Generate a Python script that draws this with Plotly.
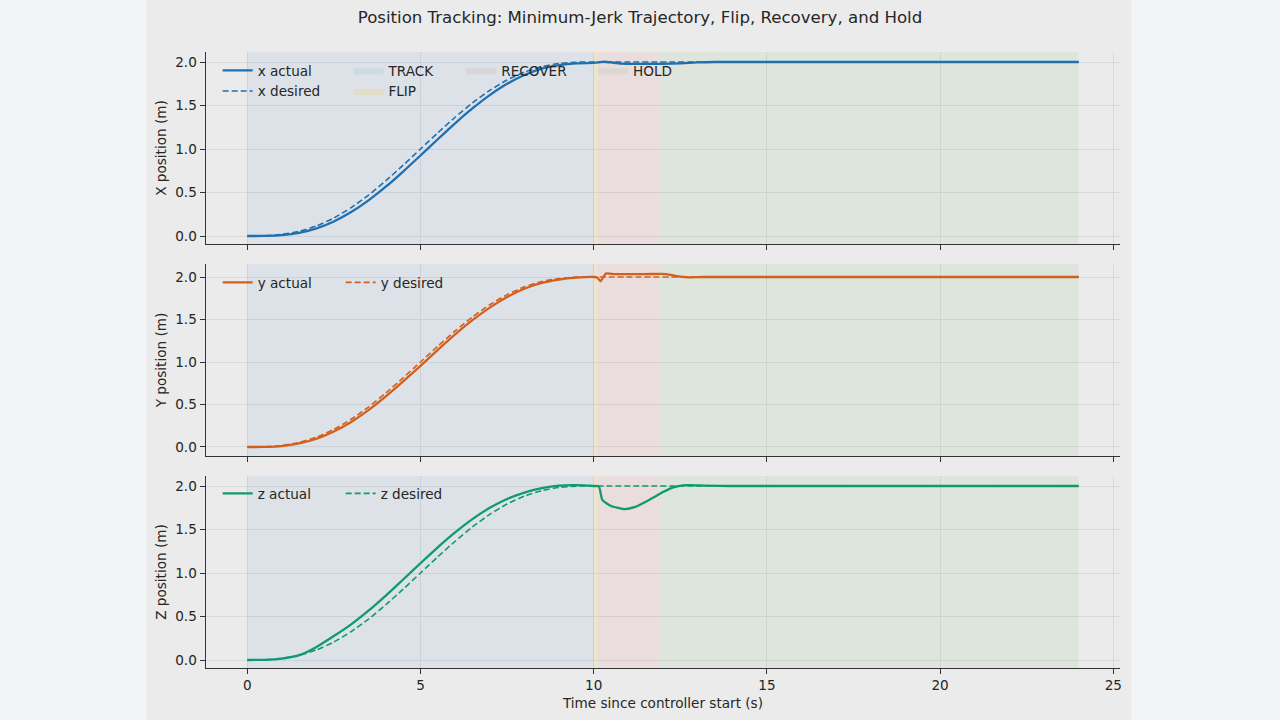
import plotly.graph_objects as go

# ---------------- data ----------------
T_TRACK = [0, 0.5, 1, 1.5, 2, 2.5, 3, 3.5, 4, 4.5, 5, 5.5, 6, 6.5, 7, 7.5, 8, 8.5, 9, 9.5, 10]
DESIRED_TRACK = [0, 0.002, 0.017, 0.053, 0.116, 0.207, 0.326, 0.470, 0.635, 0.814, 1.0,
                 1.186, 1.365, 1.530, 1.674, 1.793, 1.884, 1.947, 1.983, 1.998, 2.0]
T_DES_POST = [10.5, 24]
DES_POST = [2.0, 2.0]

X_ACT_TRACK = [0, 0.0005, 0.009, 0.036, 0.087, 0.167, 0.275, 0.410, 0.567, 0.741, 0.925,
               1.112, 1.295, 1.466, 1.619, 1.749, 1.851, 1.925, 1.965, 1.985, 1.99]
T_X_POST = [10.15, 10.3, 10.5, 10.8, 11.5, 12.0, 12.5, 13.0, 13.5, 24]
X_ACT_POST = [1.995, 2.003, 1.995, 1.982, 1.978, 1.978, 1.985, 1.995, 2.0, 2.0]

Y_ACT_TRACK = [0, 0.001, 0.011, 0.042, 0.097, 0.182, 0.295, 0.434, 0.595, 0.772, 0.955,
               1.143, 1.325, 1.492, 1.640, 1.765, 1.862, 1.930, 1.970, 1.992, 2.0]
T_Y_POST = [10.1, 10.2, 10.35, 10.6, 11.5, 12.1, 12.4, 12.7, 13.2, 24]
Y_ACT_POST = [1.995, 1.95, 2.04, 2.035, 2.035, 2.035, 2.01, 1.997, 2.0, 2.0]

Z_ACT_TRACK = [0, 0.002, 0.016, 0.055, 0.150, 0.275, 0.410, 0.567, 0.741, 0.925, 1.112,
               1.295, 1.466, 1.619, 1.749, 1.851, 1.925, 1.975, 2.005, 2.010, 2.0]
T_Z_POST = [10.15, 10.25, 10.5, 10.9, 11.2, 11.6, 12.0, 12.3, 12.7, 13.2, 14, 24]
Z_ACT_POST = [1.995, 1.84, 1.77, 1.735, 1.76, 1.84, 1.93, 1.985, 2.01, 2.005, 2.0, 2.0]

PHASE_NAMES = ["TRACK", "FLIP", "RECOVER", "HOLD"]
PHASE_START = [0.0, 10.0, 10.13, 11.91]
PHASE_END = [10.0, 10.13, 11.91, 24.0]
PHASE_FILL = ["rgba(31,119,180,0.07)", "rgba(255,190,20,0.14)",
              "rgba(214,39,40,0.07)", "rgba(44,160,44,0.07)"]
PHASE_LEGEND = ["legend2", "legend2", "legend3", "legend4"]

AXES = ["x", "y", "z"]
COLORS = ["#1f70b0", "#d2601c", "#0f9a70"]
YLABELS = ["X position (m)", "Y position (m)", "Z position (m)"]
YRANGES = [[-0.092, 2.115], [-0.106, 2.153], [-0.092, 2.115]]
ACT_T = [T_TRACK + T_X_POST, T_TRACK + T_Y_POST, T_TRACK + T_Z_POST]
ACT_V = [X_ACT_TRACK + X_ACT_POST, Y_ACT_TRACK + Y_ACT_POST, Z_ACT_TRACK + Z_ACT_POST]
DES_T = T_TRACK + T_DES_POST
DES_V = DESIRED_TRACK + DES_POST
LINE_LEGENDS = ["legend", "legend5", "legend6"]

XTICKS = [0, 5, 10, 15, 20, 25]
YTICKS = [0.0, 0.5, 1.0, 1.5, 2.0]
TITLE = "Position Tracking: Minimum-Jerk Trajectory, Flip, Recovery, and Hold"
XLABEL = "Time since controller start (s)"

# ---------------- layout geometry (pixels) ----------------
W, H = 1280, 720
PX_LEFT, PX_RIGHT = 206, 1122
PANEL_PX = [(52, 244), (264, 456), (476, 668)]

FONT = "DejaVu Sans"
FS = 13.6
TXT = "#262626"

fig = go.Figure()

for i in range(3):
    xa = "x" if i == 0 else f"x{i+1}"
    ya = "y" if i == 0 else f"y{i+1}"
    y0, y1 = YRANGES[i]
    for k, name in enumerate(PHASE_NAMES):
        fig.add_trace(go.Scatter(
            x=[PHASE_START[k], PHASE_END[k], PHASE_END[k], PHASE_START[k], PHASE_START[k]],
            y=[y0, y0, y1, y1, y0],
            fill="toself", fillcolor=PHASE_FILL[k], mode="lines",
            line=dict(width=0, color=PHASE_FILL[k]),
            name=name, showlegend=(i == 0), legend=PHASE_LEGEND[k],
            xaxis=xa, yaxis=ya, hoverinfo="skip"))
    fig.add_trace(go.Scatter(
        x=ACT_T[i], y=ACT_V[i], mode="lines",
        line=dict(color=COLORS[i], width=2.3, shape="spline", smoothing=0.5),
        name=f"{AXES[i]} actual", legend=LINE_LEGENDS[i], xaxis=xa, yaxis=ya))
    fig.add_trace(go.Scatter(
        x=DES_T, y=DES_V, mode="lines",
        line=dict(color=COLORS[i], width=1.6, dash="6px,3px", shape="spline", smoothing=0.5),
        name=f"{AXES[i]} desired", legend=LINE_LEGENDS[i], xaxis=xa, yaxis=ya))

axis_common = dict(
    showline=True, linecolor="#333333", linewidth=1.2,
    ticks="outside", ticklen=5, tickwidth=1, tickcolor="#333333",
    showgrid=True, gridcolor="#d9d9d9", gridwidth=1, zeroline=False,
    tickfont=dict(family=FONT, size=FS, color=TXT), mirror=False)

layout = dict(
    width=W, height=H,
    margin=dict(l=0, r=0, t=0, b=0),
    paper_bgcolor="#f3f4f5", plot_bgcolor="#ebebeb",
    font=dict(family=FONT, size=FS, color=TXT),
    title=dict(text=TITLE, x=0.5, xanchor="center", y=1 - 17 / H, yanchor="middle",
               font=dict(family=FONT, size=16.6, color=TXT)),
    shapes=[dict(type="rect", xref="paper", yref="paper", x0=147 / W, x1=1133 / W,
                 y0=0, y1=1, fillcolor="#ebebeb", line=dict(width=0), layer="below")],
)

for i in range(3):
    top, bot = PANEL_PX[i]
    dom_y = [1 - bot / H, 1 - top / H]
    xk = "xaxis" if i == 0 else f"xaxis{i+1}"
    yk = "yaxis" if i == 0 else f"yaxis{i+1}"
    ya = "y" if i == 0 else f"y{i+1}"
    xa = "x" if i == 0 else f"x{i+1}"
    xd = dict(axis_common, domain=[PX_LEFT / W, PX_RIGHT / W], range=[-1.2, 25.2],
              tickvals=XTICKS, anchor=ya, showticklabels=(i == 2))
    if i == 2:
        xd["title"] = dict(text=XLABEL, standoff=6, font=dict(family=FONT, size=FS, color=TXT))
    else:
        xd["matches"] = "x3"
    layout[xk] = xd
    layout[yk] = dict(axis_common, domain=dom_y, range=YRANGES[i], tickvals=YTICKS,
                      tickformat=".1f", anchor=xa,
                      title=dict(text=YLABELS[i], standoff=5,
                                 font=dict(family=FONT, size=FS, color=TXT)))

leg_common = dict(bgcolor="rgba(0,0,0,0)", font=dict(family=FONT, size=FS, color=TXT),
                  xanchor="left", yanchor="top", borderwidth=0)
layout["legend"] = dict(leg_common, x=218 / W, y=1 - 55 / H, orientation="v")
layout["legend2"] = dict(leg_common, x=349 / W, y=1 - 55 / H, orientation="v")
layout["legend3"] = dict(leg_common, x=462 / W, y=1 - 55 / H, orientation="v")
layout["legend4"] = dict(leg_common, x=594 / W, y=1 - 55 / H, orientation="v")
layout["legend5"] = dict(leg_common, x=218 / W, y=1 - 267 / H, orientation="h",
                         entrywidth=78, entrywidthmode="pixels")
layout["legend6"] = dict(leg_common, x=218 / W, y=1 - 478 / H, orientation="h",
                         entrywidth=78, entrywidthmode="pixels")

fig.update_layout(**layout)
fig.write_html("out.html")
